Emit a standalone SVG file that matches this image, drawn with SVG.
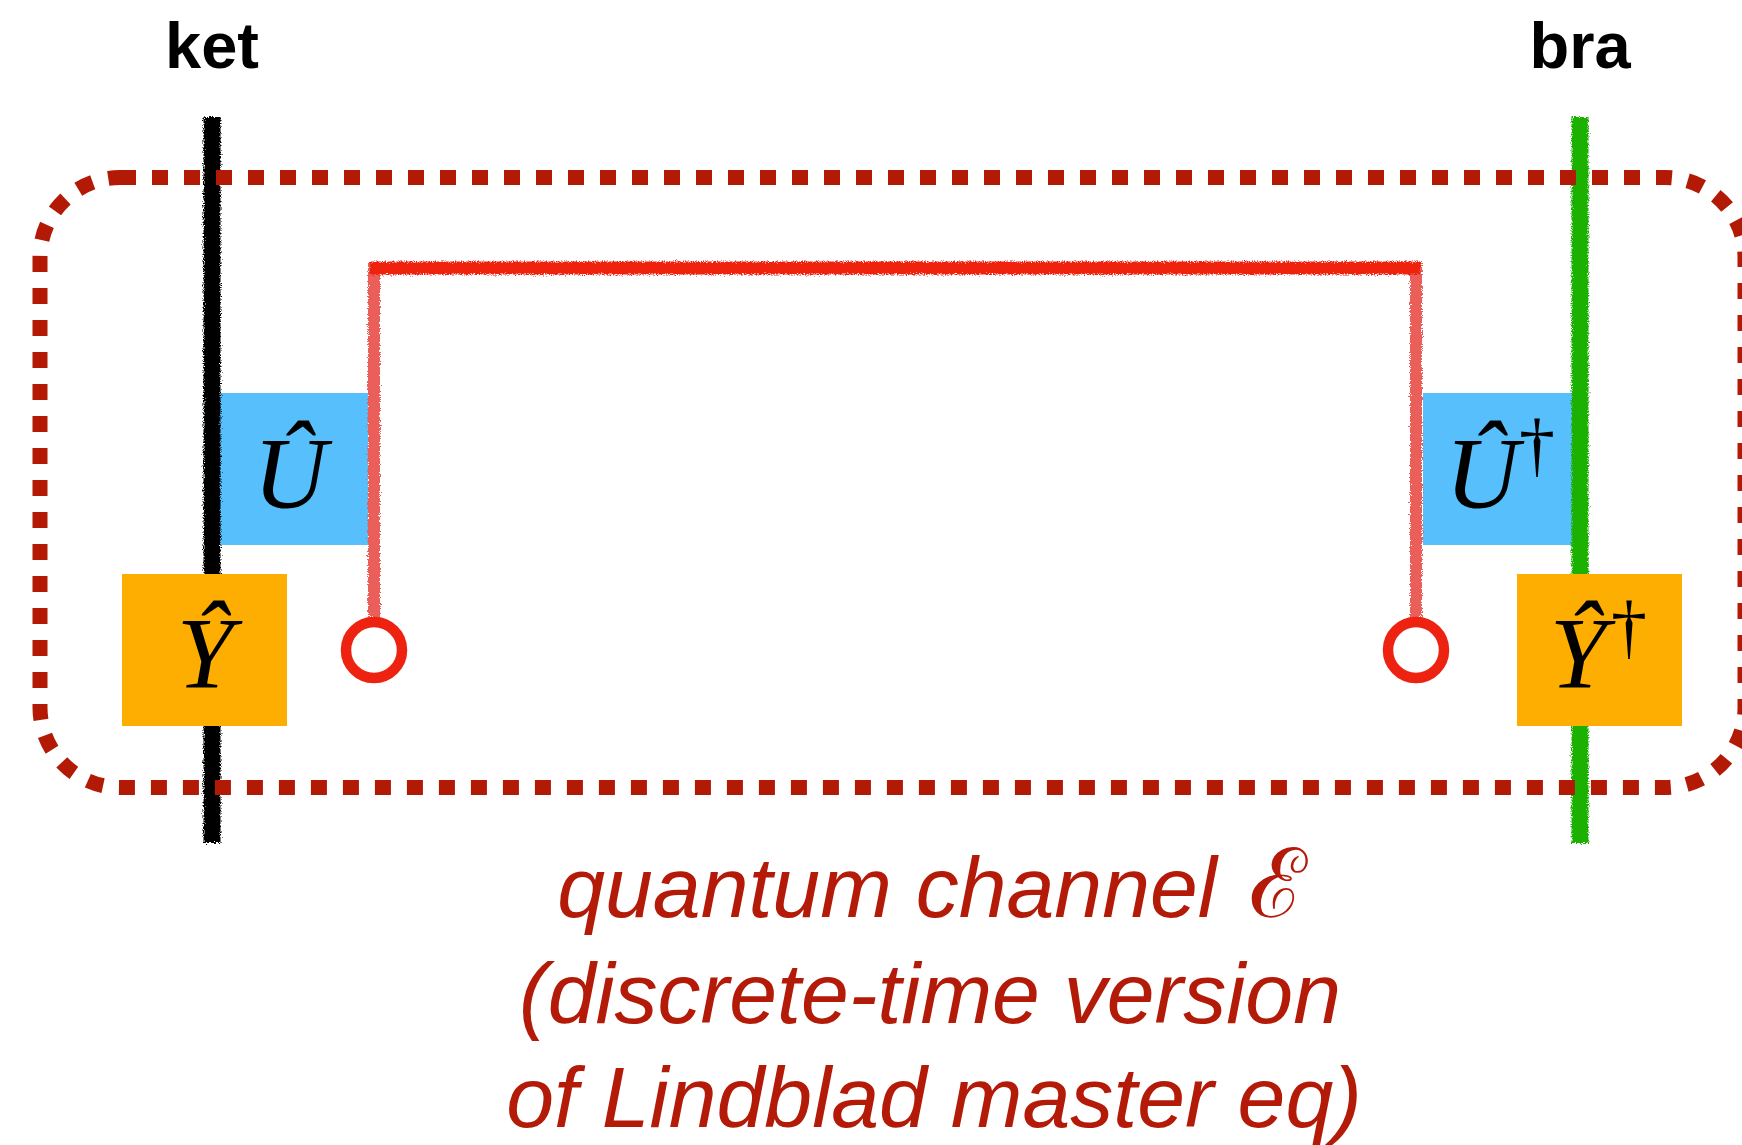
<svg xmlns="http://www.w3.org/2000/svg" width="1742" height="1145" viewBox="0 0 1742 1145">
<style>
.lbl{font-family:"Liberation Sans",Arial,sans-serif;font-weight:bold;font-size:65px;fill:#000}
.op{font-family:"Liberation Serif","Times New Roman",serif;font-style:italic;font-size:102px;fill:#000}
.dag{font-family:"Liberation Serif","Times New Roman",serif;font-size:72px;fill:#000}
.cap{font-family:"Liberation Sans",Arial,sans-serif;font-style:italic;font-size:86px;fill:#B41A08}
.dots{fill:none;stroke:#B31A06;stroke-width:15;stroke-dasharray:16 16}
.wire{fill:none;stroke-width:17;stroke-linecap:butt}
</style>
<defs>
<filter id="rough" filterUnits="userSpaceOnUse" x="0" y="0" width="1742" height="1145">
<feTurbulence type="fractalNoise" baseFrequency="0.9" numOctaves="2" seed="4" result="n"/>
<feDisplacementMap in="SourceGraphic" in2="n" scale="6" xChannelSelector="R" yChannelSelector="G"/>
</filter>
</defs>
<rect width="1742" height="1145" fill="#fff"/>
<g id="boxes-u">
<rect id="U-box" x="212" y="393" width="156" height="152" fill="#56BFFC"/>
<rect id="Udag-box" x="1423" y="393" width="157" height="152" fill="#56BFFC"/>
</g>
<g id="connectors">
<line id="ket-wire" class="wire" x1="212" y1="117" x2="212" y2="843" stroke="#000" filter="url(#rough)"/>
<line id="bra-wire" class="wire" x1="1580" y1="117" x2="1580" y2="843" stroke="#1DB100" filter="url(#rough)"/>
<line id="env-left" x1="374" y1="262" x2="374" y2="617" stroke="#EB5E5A" stroke-width="12" filter="url(#rough)"/>
<line id="env-right" x1="1416" y1="262" x2="1416" y2="617" stroke="#EB5E5A" stroke-width="12" filter="url(#rough)"/>
<line id="env-top" x1="370" y1="268" x2="1420" y2="268" stroke="#EE2211" stroke-width="13" filter="url(#rough)"/>
</g>
<path id="channel-boundary" class="dots" d="M120 177.5 H1665 A80 80 0 0 1 1745 257.5 V707.5 A80 80 0 0 1 1665 787.5 H120 A80 80 0 0 1 40 707.5 V257.5 A80 80 0 0 1 120 177.5 Z"/>
<g id="node-U">
<text class="op" x="290" y="508" text-anchor="middle">Û</text>
</g>
<g id="node-Udag">
<text class="op" x="1482" y="508" text-anchor="middle">Û</text>
<text class="dag" x="1537" y="469" text-anchor="middle">†</text>
</g>
<g id="node-Y">
<rect x="122" y="574" width="165" height="152" fill="#FDAE00"/>
<text class="op" x="205" y="688" text-anchor="middle">Ŷ</text>
</g>
<g id="node-Ydag">
<rect x="1517" y="574" width="165" height="152" fill="#FDAE00"/>
<text class="op" x="1578" y="688" text-anchor="middle">Ŷ</text>
<text class="dag" x="1629" y="651" text-anchor="middle">†</text>
</g>
<g id="trace-left"><circle cx="374" cy="650" r="28" fill="#fff" stroke="#EE2211" stroke-width="10.5"/></g>
<g id="trace-right"><circle cx="1416" cy="650" r="28" fill="#fff" stroke="#EE2211" stroke-width="10.5"/></g>
<g id="labels">
<text class="lbl" x="212" y="68" text-anchor="middle">ket</text>
<text class="lbl" x="1580" y="68" text-anchor="middle">bra</text>
<text class="cap" x="932" y="917" text-anchor="middle">quantum channel <tspan dx="8" font-family="'DejaVu Serif',serif" font-style="normal" font-size="96">ℰ</tspan></text>
<text class="cap" x="930" y="1023" text-anchor="middle">(discrete-time version</text>
<text class="cap" x="934" y="1127" text-anchor="middle">of Lindblad master eq)</text>
</g>
</svg>
